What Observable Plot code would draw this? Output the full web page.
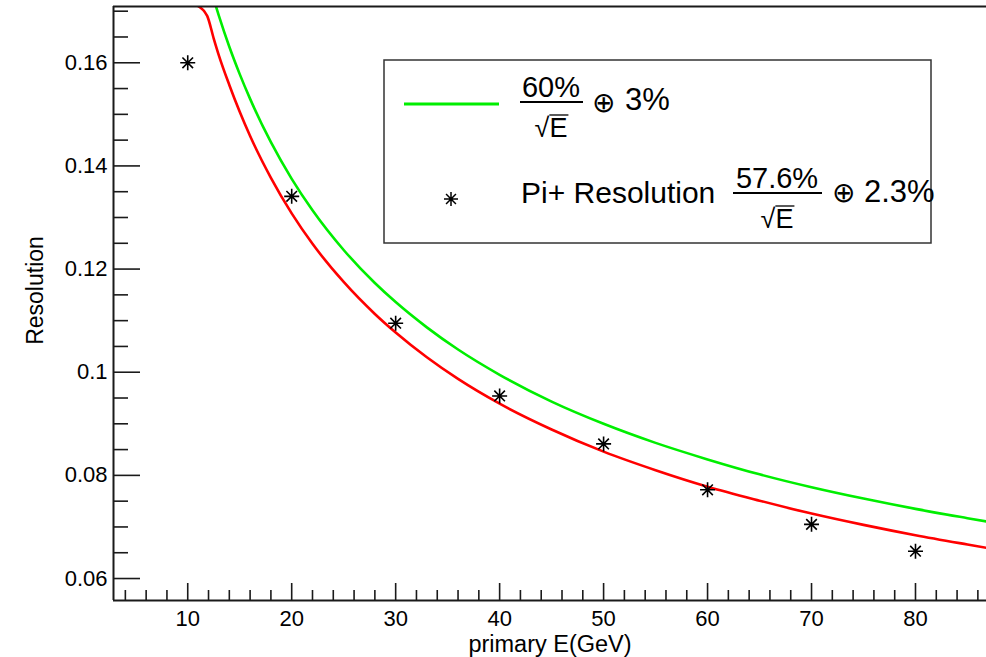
<!DOCTYPE html>
<html><head><meta charset="utf-8">
<script src="https://cdn.jsdelivr.net/npm/d3@7"></script>
<script src="https://cdn.jsdelivr.net/npm/@observablehq/plot@0.6"></script>
<style>body{margin:0;background:#fff;} #chart{width:986px;height:657px;}</style>
</head><body><div id="chart"></div>
<script>
// Measured pi+ resolution points
const energies = [10, 20, 30, 40, 50, 60, 70, 80];
const piResolution = [0.1600, 0.1341, 0.1095, 0.0954, 0.0861, 0.0772, 0.0705, 0.0653];

// Curves
const greenE = [10, 11, 12, 13, 14, 15, 16, 18, 20, 22, 25, 28, 30, 33, 36, 40, 45, 50, 55, 60, 65, 70, 75, 80, 85, 87];
const green60 = [0.1921, 0.1834, 0.1758, 0.1691, 0.1631, 0.1578, 0.1530, 0.1446, 0.1375, 0.1314, 0.1237, 0.1173, 0.1136, 0.1087, 0.1044, 0.0995, 0.0943, 0.0900, 0.0863, 0.0831, 0.0802, 0.0777, 0.0755, 0.0735, 0.0717, 0.0710];
const redE = [10.85, 11.87, 12.5, 13, 14, 15, 16, 18, 20, 22, 25, 28, 30, 33, 36, 40, 45, 50, 55, 60, 65, 70, 75, 80, 85, 87];
const red576 = [0.1712, 0.1691, 0.1647, 0.1614, 0.1557, 0.1505, 0.1458, 0.1377, 0.1308, 0.1249, 0.1175, 0.1113, 0.1077, 0.1029, 0.0987, 0.0939, 0.0889, 0.0846, 0.0810, 0.0778, 0.0751, 0.0726, 0.0704, 0.0684, 0.0666, 0.0659];

// Axes
const xMajor = [10, 20, 30, 40, 50, 60, 70, 80];
const xMinor = [4, 6, 8, 12, 14, 16, 18, 22, 24, 26, 28, 32, 34, 36, 38, 42, 44, 46, 48, 52, 54, 56, 58, 62, 64, 66, 68, 72, 74, 76, 78, 82, 84, 86];
const yMajor = [0.06, 0.08, 0.10, 0.12, 0.14, 0.16];
const yTickLabels = ["0.06", "0.08", "0.1", "0.12", "0.14", "0.16"];
const yMinor = [0.065, 0.07, 0.075, 0.085, 0.09, 0.095, 0.105, 0.11, 0.115, 0.125, 0.13, 0.135, 0.145, 0.15, 0.155, 0.165, 0.17];
const xDomain = [2.86, 86.83];
const yDomain = [0.05574, 0.17091];
const xTitle = "primary E(GeV)";
const yTitle = "Resolution";

// Legend
const legendNumerators = ["60%", "57.6%"];
const legendDenominator = "E";
const legendPrefix = ["", "Pi+ Resolution"];
const legendSuffix = ["3%", "2.3%"];

const green = "#00ee00", red = "#ff0000";
const font = "'Liberation Sans', Arial, Helvetica, sans-serif";

const star8 = {
  draw(ctx, size) {
    const r = Math.sqrt(size / Math.PI), d = r * Math.SQRT1_2;
    ctx.moveTo(-r, 0); ctx.lineTo(r, 0);
    ctx.moveTo(0, -r); ctx.lineTo(0, r);
    ctx.moveTo(-d, -d); ctx.lineTo(d, d);
    ctx.moveTo(-d, d); ctx.lineTo(d, -d);
  }
};

const points = energies.map((e, i) => ({e, r: piResolution[i]}));
const gData = greenE.map((e, i) => ({e, r: green60[i]}));
const rData = redE.map((e, i) => ({e, r: red576[i]}));
const yLabelMap = new Map(yMajor.map((v, i) => [v, yTickLabels[i]]));

const axisStroke = "#1a1a1a";
const plot = Plot.plot({
  width: 986, height: 657,
  marginLeft: 113, marginRight: 0, marginTop: 6, marginBottom: 57,
  style: {fontFamily: font, fontSize: "22px", color: "#000", background: "#fff", overflow: "visible"},
  x: {domain: xDomain, label: null},
  y: {domain: yDomain, label: null},
  marks: [
    Plot.line(gData, {x: "e", y: "r", stroke: green, strokeWidth: 2.6, curve: "monotone-x", clip: true}),
    Plot.line(rData, {x: "e", y: "r", stroke: red, strokeWidth: 2.6, curve: "monotone-x", clip: true}),
    Plot.dot(points, {x: "e", y: "r", symbol: star8, r: 7.5, fill: "none", stroke: "#000", strokeWidth: 1.6}),
    Plot.axisX(xMinor, {tickSize: -10, tickFormat: () => "", stroke: axisStroke, strokeWidth: 1.6, label: null}),
    Plot.axisX(xMajor, {tickSize: -17, tickFormat: () => "", stroke: axisStroke, strokeWidth: 1.6, label: null}),
    Plot.axisX(xMajor, {tickSize: 0, tickPadding: 10, fontSize: 22, label: null}),
    Plot.axisY(yMinor, {tickSize: -15, tickFormat: () => "", stroke: axisStroke, strokeWidth: 1.6, label: null}),
    Plot.axisY(yMajor, {tickSize: -27, tickFormat: () => "", stroke: axisStroke, strokeWidth: 1.6, label: null}),
    Plot.axisY(yMajor, {tickSize: 0, tickPadding: 6, fontSize: 22, tickFormat: d => yLabelMap.get(d), label: null}),
    Plot.ruleX([xDomain[0]], {stroke: axisStroke, strokeWidth: 2}),
    Plot.ruleY([yDomain[0]], {stroke: axisStroke, strokeWidth: 2}),
    Plot.ruleY([yDomain[1]], {stroke: axisStroke, strokeWidth: 2}),
    Plot.text([xTitle], {frameAnchor: "bottom", textAnchor: "middle", dy: 51, fontSize: 23.5, lineAnchor: "bottom"}),
    Plot.text([yTitle], {frameAnchor: "left", textAnchor: "middle", dx: -78, dy: -13, rotate: -90, fontSize: 23})
  ]
});
document.getElementById("chart").appendChild(plot);

// Legend box
const svg = d3.select(plot);
const g = svg.append("g").attr("font-family", font).attr("fill", "#000").attr("text-anchor", "start");
g.append("rect").attr("x", 384).attr("y", 60).attr("width", 547).attr("height", 183)
  .attr("fill", "#fff").attr("stroke", "#333").attr("stroke-width", 1.5);
g.append("line").attr("x1", 404).attr("x2", 499).attr("y1", 104).attr("y2", 104)
  .attr("stroke", green).attr("stroke-width", 3);
g.append("path").attr("transform", "translate(451,199)")
  .attr("d", d3.symbol().type(star8).size(Math.PI * 7 * 7)())
  .attr("fill", "none").attr("stroke", "#000").attr("stroke-width", 1.5);

function fraction(num, cx, barY, barX1, barX2, denBaseline, numSize) {
  g.append("text").attr("x", cx).attr("y", barY - 5).attr("text-anchor", "middle")
    .attr("font-size", numSize).text(num);
  g.append("line").attr("x1", barX1).attr("x2", barX2).attr("y1", barY).attr("y2", barY)
    .attr("stroke", "#000").attr("stroke-width", 2);
  const den = g.append("text").attr("x", cx).attr("y", denBaseline).attr("text-anchor", "middle")
    .attr("font-size", 27);
  den.append("tspan").text("√");
  den.append("tspan").text(legendDenominator);
  const bb = den.node().getBBox();
  g.append("line").attr("x1", bb.x + 0.45 * (bb.width)).attr("x2", bb.x + bb.width + 1)
    .attr("y1", denBaseline - 22).attr("y2", denBaseline - 22).attr("stroke", "#000").attr("stroke-width", 1.3);
}
fraction(legendNumerators[0], 551, 102, 520, 583, 137, 29);
g.append("text").attr("x", 592).attr("y", 112).attr("font-size", 28).text("⊕");
g.append("text").attr("x", 625).attr("y", 110).attr("font-size", 31).text(legendSuffix[0]);

g.append("text").attr("x", 521).attr("y", 203).attr("font-size", 30).text(legendPrefix[1]);
fraction(legendNumerators[1], 777, 193, 733, 822, 228, 29);
g.append("text").attr("x", 832).attr("y", 202).attr("font-size", 28).text("⊕");
g.append("text").attr("x", 864).attr("y", 202).attr("font-size", 31).text(legendSuffix[1]);
</script>
</body></html>
